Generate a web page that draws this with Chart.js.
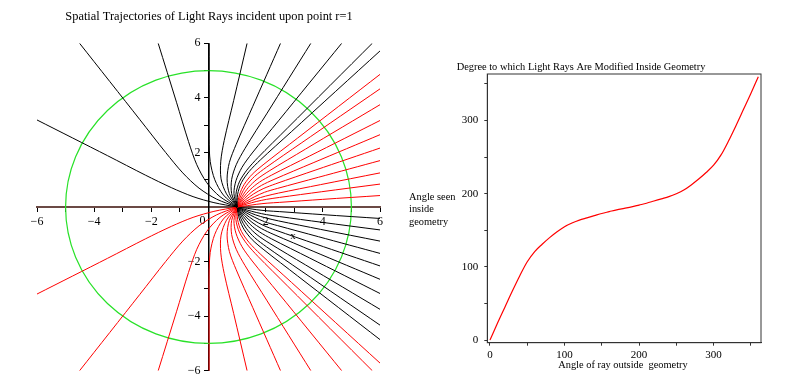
<!DOCTYPE html>
<html><head><meta charset="utf-8">
<script src="https://cdn.jsdelivr.net/npm/chart.js@4.4.0/dist/chart.umd.min.js"></script>
<style>
html,body{margin:0;padding:0;background:#fff;width:800px;height:377px;overflow:hidden}
#l{position:absolute;left:0;top:0;width:400px;height:377px}
#r{position:absolute;left:400px;top:0;width:400px;height:377px}
</style></head><body>
<canvas id="l" width="400" height="377"></canvas>
<canvas id="r" width="400" height="377"></canvas>
<script>
// ---------- data ----------
const leftTitle = 'Spatial Trajectories of Light Rays incident upon point r=1';
const rightTitle = 'Degree to which Light Rays Are Modified Inside Geometry';
const rightXTitle = 'Angle of ray outside  geometry';
const rightYTitle = ['Angle seen', 'inside', 'geometry'];
const leftXName = 'x';

const axisTicks = [-6,-5,-4,-3,-2,-1,0,1,2,3,4,5,6];
const axisLabelTicks = [-6,-4,-2,2,4,6];
const angleTicks = [0,50,100,150,200,250,300,350];
const circleRadius = 5;

// right plot: angle outside vs angle inside
const angleOutside = [0,10,20,30,40,50,60,70,80,90,100,110,120,130,140,150,160,170,180,190,200,210,220,230,240,250,260,270,280,290,300,310,320,330,340,350,360];
const angleInside  = [0,23,45,67,88,107,121,131,140,148,155,160,164,167,170,173,175.5,178,180,182,184.5,187,190,193,196,200,205,212,220,229,239,253,272,293,315,337,360];

// left plot: ray trajectories (far end -> source point r=1)
const raysUpperBlack = [
 [[-6,3.19],[-3.53,1.88],[-2.21,1.17],[-1.30,0.71],[-0.54,0.38],[0.19,0.16],[1,0]],
 [[-4.51,6],[-2.40,3.20],[-1.50,2.00],[-0.90,1.25],[-0.33,0.69],[0.28,0.29],[1,0]],
 [[-1.76,6],[-1.12,3.84],[-0.70,2.40],[-0.41,1.55],[-0.06,0.89],[0.40,0.38],[1,0]],
 [[0.02,6],[0.02,4.0],[0.02,2.50],[0.06,1.67],[0.22,1.00],[0.52,0.44],[1,0]],
 [[1.35,6],[0.88,3.90],[0.55,2.44],[0.43,1.68],[0.44,1.03],[0.63,0.48],[1,0]],
 [[2.52,6],[1.55,3.69],[0.97,2.30],[0.73,1.63],[0.65,1.03],[0.73,0.49],[1,0]],
 [[3.58,6],[2.05,3.44],[1.28,2.15],[0.97,1.55],[0.81,1.01],[0.81,0.49],[1,0]],
 [[4.66,6],[2.45,3.16],[1.53,1.98],[1.17,1.45],[0.96,0.96],[0.89,0.49],[1,0]],
 [[5.73,6],[2.76,2.89],[1.73,1.81],[1.34,1.35],[1.08,0.92],[0.96,0.47],[1,0]],
 [[6,5.72],[2.90,2.76],[1.81,1.72],[1.42,1.30],[1.15,0.89],[1.02,0.47],[1,0]]
];
const raysUpperRed = [
 [[6,4.86],[3.11,2.52],[1.94,1.57],[1.53,1.20],[1.25,0.83],[1.08,0.44],[1,0]],
 [[6,4.33],[3.24,2.34],[2.03,1.46],[1.61,1.12],[1.32,0.78],[1.13,0.42],[1,0]],
 [[6,3.75],[3.39,2.12],[2.12,1.32],[1.70,1.02],[1.40,0.72],[1.18,0.39],[1,0]],
 [[6,3.17],[3.54,1.87],[2.21,1.17],[1.78,0.91],[1.46,0.64],[1.22,0.35],[1,0]],
 [[6,2.65],[3.66,1.62],[2.29,1.01],[1.85,0.79],[1.52,0.56],[1.26,0.31],[1,0]],
 [[6,2.16],[3.76,1.36],[2.35,0.85],[1.91,0.67],[1.58,0.48],[1.29,0.26],[1,0]],
 [[6,1.70],[3.85,1.09],[2.41,0.68],[1.96,0.54],[1.62,0.38],[1.32,0.21],[1,0]],
 [[6,1.25],[3.92,0.82],[2.45,0.51],[2.00,0.40],[1.65,0.29],[1.34,0.16],[1,0]],
 [[6,0.84],[3.96,0.56],[2.48,0.35],[2.03,0.28],[1.67,0.20],[1.35,0.11],[1,0]],
 [[6,0.42],[3.99,0.28],[2.49,0.17],[2.05,0.14],[1.69,0.10],[1.36,0.05],[1,0]]
];
const raysLowerBlack = [
 [[6,-4.86],[3.11,-2.52],[1.94,-1.57],[1.53,-1.20],[1.25,-0.83],[1.08,-0.44],[1,0]],
 [[6,-4.33],[3.24,-2.34],[2.03,-1.46],[1.61,-1.12],[1.32,-0.78],[1.13,-0.42],[1,0]],
 [[6,-3.75],[3.39,-2.12],[2.12,-1.32],[1.70,-1.02],[1.40,-0.72],[1.18,-0.39],[1,0]],
 [[6,-3.17],[3.54,-1.87],[2.21,-1.17],[1.78,-0.91],[1.46,-0.64],[1.22,-0.35],[1,0]],
 [[6,-2.65],[3.66,-1.62],[2.29,-1.01],[1.85,-0.79],[1.52,-0.56],[1.26,-0.31],[1,0]],
 [[6,-2.16],[3.76,-1.36],[2.35,-0.85],[1.91,-0.67],[1.58,-0.48],[1.29,-0.26],[1,0]],
 [[6,-1.70],[3.85,-1.09],[2.41,-0.68],[1.96,-0.54],[1.62,-0.38],[1.32,-0.21],[1,0]],
 [[6,-1.25],[3.92,-0.82],[2.45,-0.51],[2.00,-0.40],[1.65,-0.29],[1.34,-0.16],[1,0]],
 [[6,-0.84],[3.96,-0.56],[2.48,-0.35],[2.03,-0.28],[1.67,-0.20],[1.35,-0.11],[1,0]],
 [[6,-0.42],[3.99,-0.28],[2.49,-0.17],[2.05,-0.14],[1.69,-0.10],[1.36,-0.05],[1,0]]
];
const raysLowerRed = [
 [[-6,-3.19],[-3.53,-1.88],[-2.21,-1.17],[-1.30,-0.71],[-0.54,-0.38],[0.19,-0.16],[1,0]],
 [[-4.51,-6],[-2.40,-3.20],[-1.50,-2.00],[-0.90,-1.25],[-0.33,-0.69],[0.28,-0.29],[1,0]],
 [[-1.76,-6],[-1.12,-3.84],[-0.70,-2.40],[-0.41,-1.55],[-0.06,-0.89],[0.40,-0.38],[1,0]],
 [[0.02,-6],[0.02,-4.0],[0.02,-2.50],[0.06,-1.67],[0.22,-1.00],[0.52,-0.44],[1,0]],
 [[1.35,-6],[0.88,-3.90],[0.55,-2.44],[0.43,-1.68],[0.44,-1.03],[0.63,-0.48],[1,0]],
 [[2.52,-6],[1.55,-3.69],[0.97,-2.30],[0.73,-1.63],[0.65,-1.03],[0.73,-0.49],[1,0]],
 [[3.58,-6],[2.05,-3.44],[1.28,-2.15],[0.97,-1.55],[0.81,-1.01],[0.81,-0.49],[1,0]],
 [[4.66,-6],[2.45,-3.16],[1.53,-1.98],[1.17,-1.45],[0.96,-0.96],[0.89,-0.49],[1,0]],
 [[5.73,-6],[2.76,-2.89],[1.73,-1.81],[1.34,-1.35],[1.08,-0.92],[0.96,-0.47],[1,0]],
 [[6,-5.72],[2.90,-2.76],[1.81,-1.72],[1.42,-1.30],[1.15,-0.89],[1.02,-0.47],[1,0]]
];

// ---------- rendering ----------
const FONT = '"Liberation Serif", "Times New Roman", serif';
Chart.defaults.font.family = FONT;
Chart.defaults.color = '#000';
const RED = '#ff0000', BLACK = '#000000', GREEN = 'rgb(40,225,40)', BROWN = '#6b4a45';
const fmt = v => v < 0 ? '\u2212' + (-v) : String(v);

function rayDatasets(rays, color) {
  return rays.map(r => ({
    data: r.map(p => ({x: p[0], y: p[1]})),
    borderColor: color, borderWidth: 1, showLine: true,
    pointRadius: 0, tension: 0.3, fill: false
  }));
}

const leftPlugin = {
  id: 'leftDeco',
  beforeDatasetsDraw(chart) {
    const {ctx, scales: {x, y}} = chart;
    const cx = x.getPixelForValue(0), cy = y.getPixelForValue(0);
    ctx.save();
    ctx.strokeStyle = GREEN; ctx.lineWidth = 1.2;
    ctx.beginPath();
    ctx.ellipse(cx, cy, x.getPixelForValue(circleRadius) - cx, cy - y.getPixelForValue(circleRadius), 0, 0, Math.PI * 2);
    ctx.stroke();
    ctx.fillStyle = '#000'; ctx.textBaseline = 'middle';
    ctx.textAlign = 'center';
    ctx.font = '12.4px ' + FONT;
    ctx.fillText(leftTitle, 209, 17);
    ctx.font = '12px ' + FONT;
    ctx.fillText('0', cx - 6, cy + 14);
    // y tick labels, right-aligned left of the central axis
    ctx.textAlign = 'right';
    axisLabelTicks.forEach(v => ctx.fillText(fmt(v), cx - 8, y.getPixelForValue(v)));
    ctx.textAlign = 'center';
    ctx.font = '11px ' + FONT;
    ctx.fillText(leftXName, 293, 236);
    ctx.restore();
  }
};

new Chart(document.getElementById('l'), {
  type: 'scatter',
  data: { datasets: [
    ...rayDatasets(raysUpperBlack, BLACK),
    ...rayDatasets(raysUpperRed, RED),
    ...rayDatasets(raysLowerBlack, BLACK),
    ...rayDatasets(raysLowerRed, RED)
  ]},
  options: {
    responsive: false, animation: false, events: [],
    layout: { padding: { left: 37, right: 20, top: 43.3, bottom: 6.3 } },
    plugins: { legend: {display: false}, tooltip: {enabled: false}, title: {display: false} },
    scales: {
      x: {
        type: 'linear', min: -6, max: 6, position: {y: 0},
        afterFit: s => { s.height = 0; },
        afterBuildTicks: s => { s.ticks = axisTicks.map(v => ({value: v})); },
        border: {display: true, color: BROWN, width: 2},
        grid: {drawOnChartArea: false, drawTicks: true, tickLength: 4, tickColor: '#000', tickWidth: 1},
        ticks: {autoSkip: false, maxRotation: 0, padding: 4, color: '#000',
          font: {size: 12, family: FONT},
          callback: v => (v % 2 === 0 && v !== 0) ? fmt(v) : ''}
      },
      y: {
        type: 'linear', min: -6, max: 6, position: {x: 0},
        afterFit: s => { s.width = 0; },
        afterBuildTicks: s => { s.ticks = axisTicks.map(v => ({value: v})); },
        border: {display: true, color: '#000', width: 1.5},
        grid: {drawOnChartArea: false, drawTicks: true, tickLength: 4, tickColor: '#000', tickWidth: 1},
        ticks: {display: false}
      }
    }
  },
  plugins: [leftPlugin]
});

const rightPlugin = {
  id: 'rightDeco',
  afterDraw(chart) {
    const {ctx, chartArea: a} = chart;
    ctx.save();
    ctx.strokeStyle = '#333'; ctx.lineWidth = 1;
    ctx.strokeRect(a.left, a.top, a.right - a.left, a.bottom - a.top);
    ctx.fillStyle = '#000'; ctx.textBaseline = 'middle';
    ctx.font = '10.4px ' + FONT; ctx.textAlign = 'center';
    ctx.fillText(rightTitle, 181, 67);
    ctx.fillText(rightXTitle, 223, 365);
    ctx.textAlign = 'left';
    rightYTitle.forEach((t, i) => ctx.fillText(t, 9, 197 + i * 12.5));
    ctx.restore();
  }
};

new Chart(document.getElementById('r'), {
  type: 'scatter',
  data: { datasets: [{
    data: angleOutside.map((v, i) => ({x: v, y: angleInside[i]})),
    showLine: true, borderColor: RED, borderWidth: 1.2, pointRadius: 0,
    cubicInterpolationMode: 'monotone', fill: false
  }]},
  options: {
    responsive: false, animation: false, events: [],
    layout: { padding: { left: 0, right: 39, top: 74, bottom: 0 } },
    plugins: { legend: {display: false}, tooltip: {enabled: false}, title: {display: false} },
    scales: {
      x: {
        type: 'linear', min: -3.6, max: 363.6, position: 'bottom',
        afterFit: s => { s.height = 34.3; },
        afterBuildTicks: s => { s.ticks = angleTicks.map(v => ({value: v})); },
        border: {display: true, color: '#333', width: 1},
        grid: {drawOnChartArea: false, drawTicks: true, tickLength: 3, tickColor: '#333'},
        ticks: {autoSkip: false, maxRotation: 0, padding: 3, font: {size: 11, family: FONT},
          callback: v => v % 100 === 0 ? String(v) : ''}
      },
      y: {
        type: 'linear', min: -3.6, max: 363.6, position: 'left',
        afterFit: s => { s.width = 87.3; },
        afterBuildTicks: s => { s.ticks = angleTicks.map(v => ({value: v})); },
        border: {display: true, color: '#333', width: 1},
        grid: {drawOnChartArea: false, drawTicks: true, tickLength: 3, tickColor: '#333'},
        ticks: {autoSkip: false, padding: 6, font: {size: 11, family: FONT},
          callback: v => v % 100 === 0 ? String(v) : ''}
      }
    }
  },
  plugins: [rightPlugin]
});
</script></body></html>
